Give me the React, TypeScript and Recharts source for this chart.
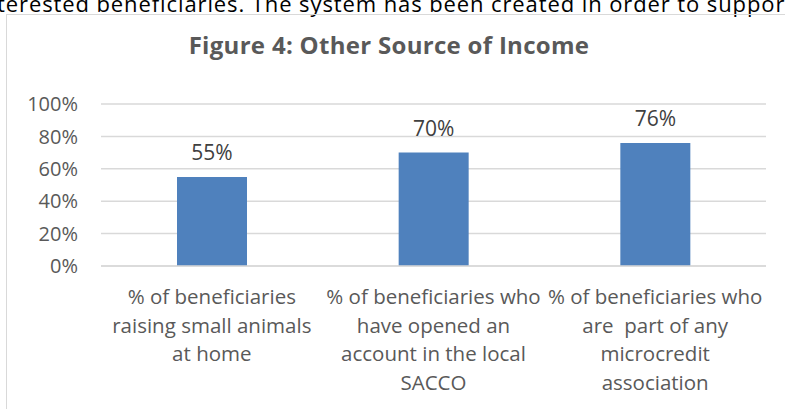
import { BarChart, Bar, XAxis, YAxis, CartesianGrid, LabelList } from "recharts";

const categories = [
  "% of beneficiaries\nraising small animals\nat home",
  "% of beneficiaries who\nhave opened an\naccount in the local\nSACCO",
  "% of beneficiaries who\nare  part of any\nmicrocredit\nassociation",
];
const values = [55, 70, 76];
const yTicks = [0, 20, 40, 60, 80, 100];

const data = categories.map((name, i) => ({ name, value: values[i] }));

const FONT = "'Open Sans', sans-serif";

function CategoryTick(props: any) {
  const { x, y, payload } = props;
  const lines = String(payload.value).split("\n");
  return (
    <text x={x} y={y} textAnchor="middle" fill="#595959" fontSize={20.5} fontFamily={FONT}>
      {lines.map((line: string, i: number) => (
        <tspan key={i} x={x} dy={i === 0 ? 0 : 28.5} style={{ whiteSpace: "pre" }}>
          {line}
        </tspan>
      ))}
    </text>
  );
}

export default function App() {
  return (
    <div style={{ position: "absolute", left: 0, top: 0, width: 785, height: 409, overflow: "hidden", background: "#fff" }}>
      <div
        style={{
          position: "absolute",
          left: -3,
          top: -8,
          whiteSpace: "nowrap",
          fontFamily: FONT,
          fontSize: 22,
          letterSpacing: 0.9,
          lineHeight: "22px",
          color: "#000",
        }}
      >
        terested beneficiaries. The system has been created in order to support
      </div>
      <div
        style={{
          position: "absolute",
          left: 6,
          top: 14,
          width: 820,
          height: 440,
          border: "1.5px solid #d9d9d9",
        }}
      />
      <div
        style={{
          position: "absolute",
          left: 0,
          width: 778,
          top: 33,
          textAlign: "center",
          fontFamily: FONT,
          fontWeight: 700,
          fontSize: 24,
          letterSpacing: 0.3,
          lineHeight: "24px",
          color: "#595959",
        }}
      >
        Figure 4: Other Source of Income
      </div>
      <div style={{ position: "absolute", left: 0, top: 0 }}>
        <BarChart width={785} height={409} data={data} margin={{ top: 104, right: 19, bottom: 0, left: 0 }}>
          <CartesianGrid vertical={false} stroke="#d9d9d9" strokeWidth={1.5} />
          <XAxis
            dataKey="name"
            axisLine={{ stroke: "#d9d9d9", strokeWidth: 1.5 }}
            tickLine={false}
            interval={0}
            tick={<CategoryTick />}
            tickMargin={32}
            height={143}
          />
          <YAxis
            domain={[0, 100]}
            ticks={yTicks}
            width={101}
            axisLine={false}
            tickLine={false}
            tickSize={0}
            tickMargin={23}
            tickFormatter={(v: number) => `${v}%`}
            tick={{ fill: "#595959", fontSize: 20, fontFamily: FONT }}
          />
          <Bar dataKey="value" fill="#4f81bd" barSize={70} isAnimationActive={false}>
            <LabelList
              dataKey="value"
              position="top"
              offset={17}
              formatter={(v: any) => `${v}%`}
              fill="#404040"
              fontSize={21}
              fontFamily={FONT}
            />
          </Bar>
        </BarChart>
      </div>
    </div>
  );
}
